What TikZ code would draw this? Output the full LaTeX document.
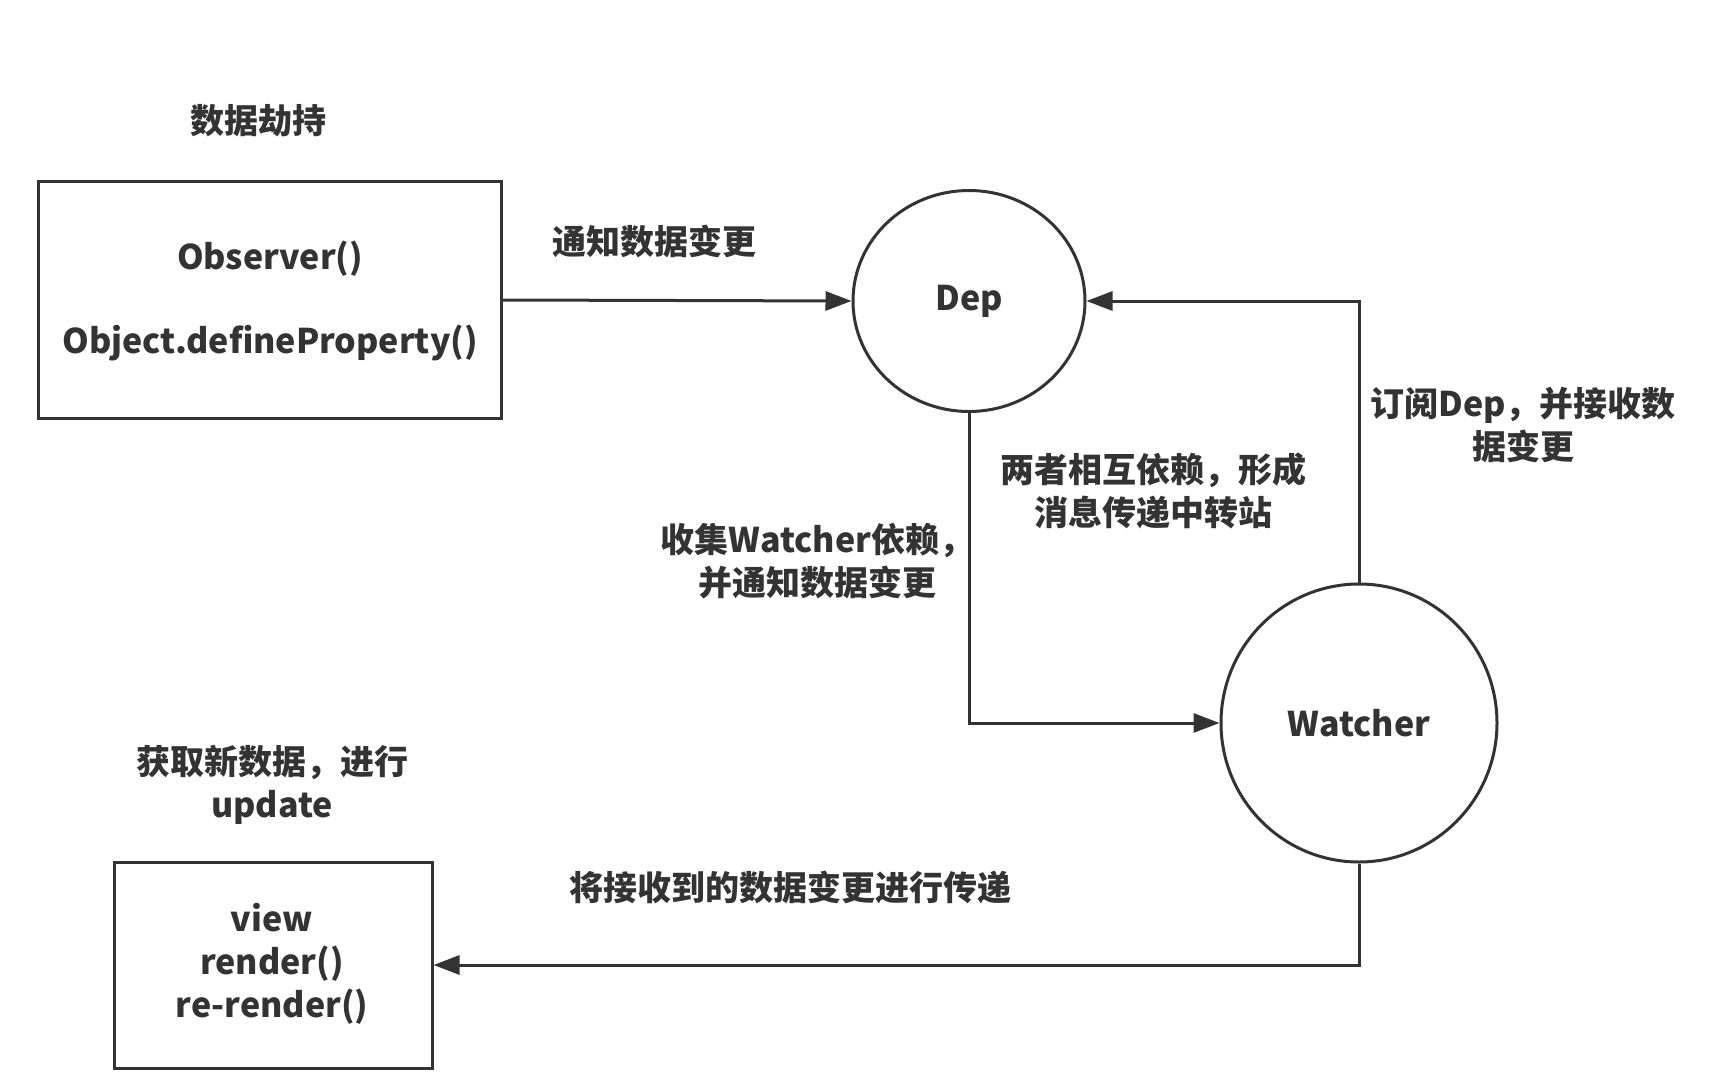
\documentclass[tikz,border=0pt]{standalone}
\usepackage{fontspec}
\setmainfont{Noto Sans CJK SC}
\usetikzlibrary{arrows.meta,shapes.geometric}
\definecolor{ink}{HTML}{333333}
\begin{document}
\begin{tikzpicture}[x=1pt,y=-1pt,
  txt/.style={font=\fontsize{34}{43}\selectfont\bfseries, text=ink, align=center, inner sep=0pt},
  box/.style={draw=ink, line width=3pt, inner sep=0pt},
  circ/.style={draw=ink, line width=3pt, ellipse, inner sep=0pt},
  arr/.style={draw=ink, line width=3pt, -{Triangle[length=26pt,width=19pt]}}]
\useasboundingbox[fill=white] (0,0) rectangle (1730,1092);
% nodes
\node[box, minimum width=463pt, minimum height=237pt] (obs) at (270,300) {};
\node[circ, minimum width=232pt, minimum height=221pt] (dep) at (969,301) {};
\node[circ, minimum width=276pt, minimum height=278pt] (wat) at (1359,723) {};
\node[box, minimum width=318pt, minimum height=206pt] (view) at (273,965) {};
% texts inside
\node[txt] (t1) at (270,259) {Observer()};
\node[txt] (t2) at (270,343) {Object.defineProperty()};
\node[txt] (t3) at (969,301) {Dep};
\node[txt] (t4) at (1359,723) {Watcher};
\node[txt] (t5) at (272,964) {view\\render()\\re-render()};
% labels
\node[txt] (l1) at (258,121) {数据劫持};
\node[txt] (l2) at (654,241) {通知数据变更};
\node[txt] (l3) at (1523,425) {订阅Dep，并接收数\\据变更};
\node[txt] (l4) at (1153,491) {两者相互依赖，形成\\消息传递中转站};
\node[txt] (l5) at (817,561) {收集Watcher依赖，\\并通知数据变更};
\node[txt] (l6) at (790,888) {将接收到的数据变更进行传递};
\node[txt] (l7) at (272,785) {获取新数据，进行\\update};
% connectors
\draw[arr] (obs.east) -- (dep.west);
\draw[arr] (wat.north) |- (dep.east);
\draw[arr] (dep.south) |- (wat.west);
\draw[arr] (wat.south) |- (view.east);
\end{tikzpicture}
\end{document}
